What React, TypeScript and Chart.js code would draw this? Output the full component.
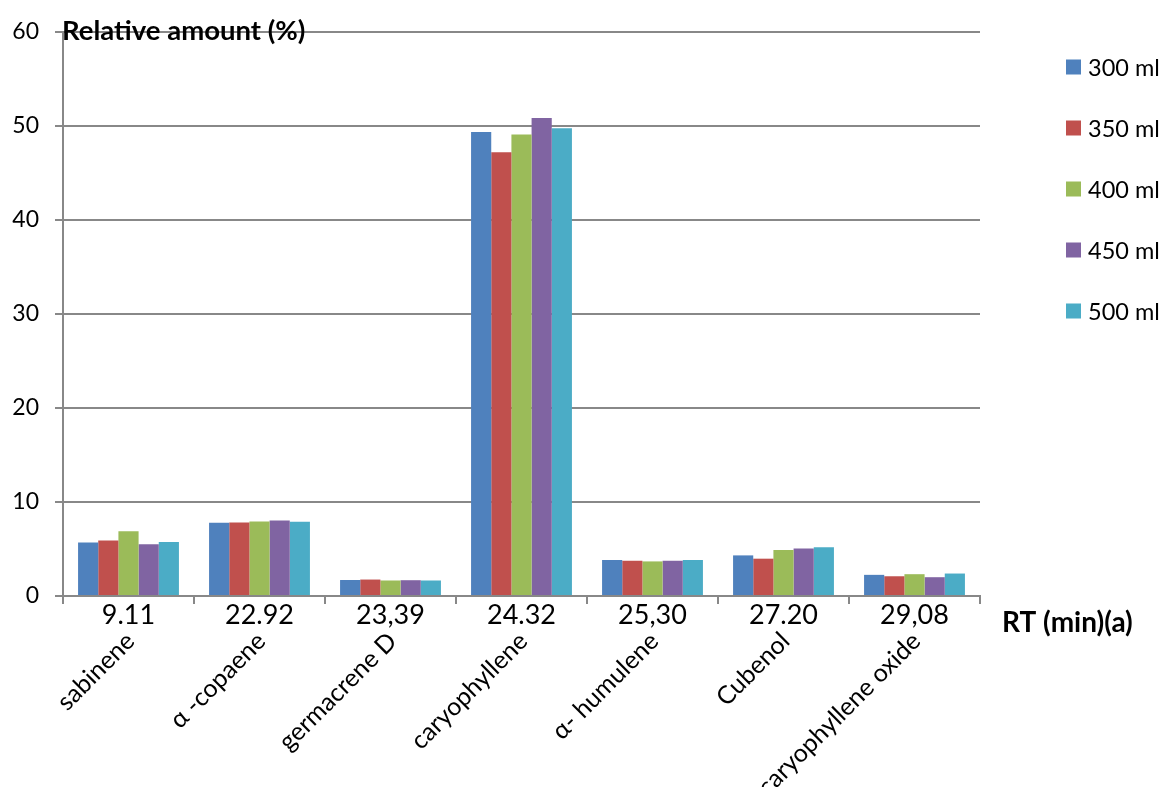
import { useEffect, useRef } from 'react';
import { Chart, registerables } from 'chart.js';

Chart.register(...registerables);

// ---- data ----
const rtLabels = ['9.11', '22.92', '23,39', '24.32', '25,30', '27.20', '29,08'];
const compounds = ['sabinene', 'α -copaene', 'germacrene D', 'caryophyllene', 'α- humulene', 'Cubenol', 'caryophyllene oxide'];
const seriesNames = ['300 ml', '350 ml', '400 ml', '450 ml', '500 ml'];
const v300 = [5.7, 7.8, 1.7, 49.35, 3.83, 4.32, 2.25];
const v350 = [5.9, 7.83, 1.75, 47.2, 3.75, 3.97, 2.1];
const v400 = [6.9, 7.93, 1.65, 49.1, 3.68, 4.9, 2.32];
const v450 = [5.5, 8.04, 1.68, 50.86, 3.75, 5.04, 2.0];
const v500 = [5.75, 7.9, 1.65, 49.75, 3.83, 5.18, 2.39];
const yTitle = 'Relative amount (%)';
const xTitle = 'RT (min)(a)';

const seriesValues = [v300, v350, v400, v450, v500];
const colors = ['#4F81BD', '#C0504D', '#9BBB59', '#8064A2', '#4BACC6'];
const GRID = '#888888';
const FONT = 'Lato, "Open Sans", sans-serif';

const labelPlugin = {
  id: 'extraLabels',
  afterDraw(chart: any) {
    const ctx = chart.ctx as CanvasRenderingContext2D;
    const xs = chart.scales.x;
    ctx.save();
    ctx.fillStyle = '#000';
    // compound names, rotated
    ctx.font = `25px ${FONT}`;
    ctx.textAlign = 'right';
    ctx.textBaseline = 'middle';
    compounds.forEach((name, i) => {
      const x = xs.getPixelForValue(i);
      ctx.save();
      ctx.translate(x + 2, 637);
      ctx.rotate(-Math.PI / 4);
      ctx.fillText(name, 0, 0);
      ctx.restore();
    });
    // y title
    ctx.textAlign = 'left';
    ctx.font = `bold 27.5px ${FONT}`;
    ctx.fillText(yTitle, 62, 31);
    // x title
    ctx.font = `bold 28px ${FONT}`;
    ctx.fillText(xTitle, 1002, 623);
    // legend
    ctx.font = `23.5px ${FONT}`;
    chart.data.datasets.forEach((ds: any, i: number) => {
      const cy = 67 + i * 61;
      ctx.fillStyle = ds.backgroundColor;
      ctx.fillRect(1066, cy - 7.5, 15, 15);
      ctx.fillStyle = '#000';
      ctx.fillText(ds.label, 1088, cy + 1);
    });
    ctx.restore();
  },
};

export default function App() {
  const ref = useRef<HTMLCanvasElement>(null);
  useEffect(() => {
    document.body.style.margin = '0';
    const chart = new Chart(ref.current as HTMLCanvasElement, {
      type: 'bar',
      data: {
        labels: rtLabels,
        datasets: seriesNames.map((name, i) => ({
          label: name,
          data: seriesValues[i],
          backgroundColor: colors[i],
          borderWidth: 0,
          categoryPercentage: 0.77,
          barPercentage: 1,
        })),
      },
      options: {
        animation: false,
        responsive: false,
        layout: { padding: { top: 32, right: 181, left: 0, bottom: 0 } },
        plugins: {
          legend: { display: false },
          tooltip: { enabled: false },
        },
        scales: {
          x: {
            grid: { offset: true, drawOnChartArea: false, drawTicks: true, tickLength: 8, color: GRID, lineWidth: 2 },
            border: { color: GRID, width: 2 },
            ticks: { font: { family: FONT, size: 27 }, color: '#000', padding: -5, maxRotation: 0, minRotation: 0, autoSkip: false },
            afterFit: (s: any) => { s.height = 191; },
          },
          y: {
            min: 0,
            max: 60,
            ticks: { stepSize: 10, font: { family: FONT, size: 23 }, color: '#000', padding: 16 },
            grid: { color: GRID, lineWidth: 2, tickLength: 8 },
            border: { color: GRID, width: 2 },
            afterFit: (s: any) => { s.width = 63; },
          },
        },
      } as any,
      plugins: [labelPlugin],
    });
    return () => chart.destroy();
  }, []);
  return (
    <div style={{ position: 'fixed', left: 0, top: 0, width: 1161, height: 787 }}>
      <canvas ref={ref} width={1161} height={787} />
    </div>
  );
}
